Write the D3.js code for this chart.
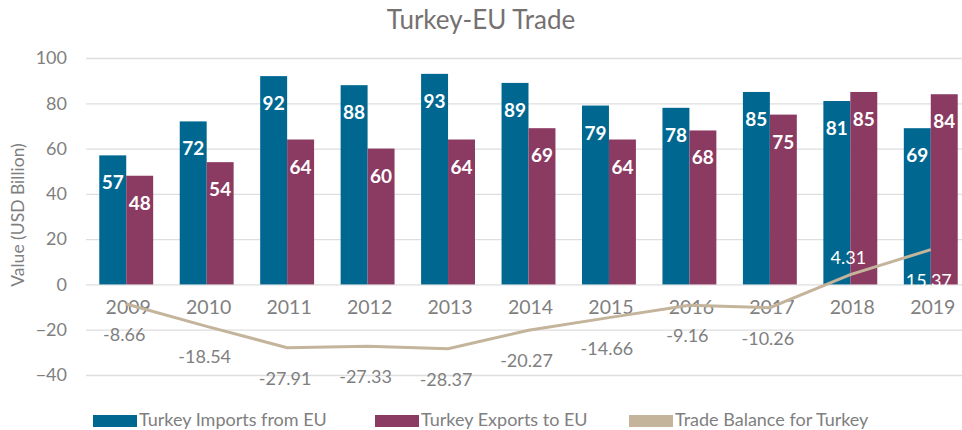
<!DOCTYPE html>
<html>
<head>
<meta charset="utf-8">
<script src="https://cdn.jsdelivr.net/npm/d3@7"></script>
<style>
  body { margin: 0; background: #fff; }
  svg text { font-family: Lato, "DejaVu Sans", sans-serif; }
</style>
</head>
<body>
<div id="chart"></div>
<script>
// chart values
const years = ["2009", "2010", "2011", "2012", "2013", "2014", "2015", "2016", "2017", "2018", "2019"];
const imports = [57, 72, 92, 88, 93, 89, 79, 78, 85, 81, 69];
const exports = [48, 54, 64, 60, 64, 69, 64, 68, 75, 85, 84];
const balance = [-8.66, -18.54, -27.91, -27.33, -28.37, -20.27, -14.66, -9.16, -10.26, 4.31, 15.37];
const balanceLabelPos = ["below", "below", "below", "below", "below", "below", "below", "below", "below", "above", "below"];
const yTicks = [-40, -20, 0, 20, 40, 60, 80, 100];
const seriesNames = ["Turkey Imports from EU", "Turkey Exports to EU", "Trade Balance for Turkey"];

const width = 962;
const height = 430;
const marginTop = 58;
const marginLeft = 86;
const colors = ["#006890", "#8b3a62", "#c4b49b"];

const svg = d3.select("#chart").append("svg")
  .attr("width", width)
  .attr("height", height);

const x = d3.scaleBand()
  .domain(years)
  .range([marginLeft, 971])
  .paddingInner(0.33)
  .paddingOuter(0.165);

const x1 = d3.scaleBand()
  .domain([0, 1])
  .range([0, x.bandwidth()]);

const y = d3.scaleLinear()
  .domain([-40, 100])
  .range([375, marginTop]);

// title
svg.append("text")
  .attr("x", 481)
  .attr("y", 29)
  .attr("text-anchor", "middle")
  .attr("fill", "#767171")
  .style("font-size", "26px")
  .text("Turkey-EU Trade");

// gridlines + y labels
const yAxis = d3.axisLeft(y).tickValues(yTicks).tickSize(-(width - marginLeft)).tickPadding(19);
svg.append("g")
  .attr("transform", `translate(${marginLeft},0)`)
  .call(yAxis)
  .call(g => g.select(".domain").remove())
  .call(g => g.selectAll(".tick line").attr("stroke", "#dedede").attr("stroke-width", 1.3))
  .call(g => g.selectAll(".tick text")
    .attr("fill", "#7f7f7f")
    .style("font-size", "18px")
    .style("font-family", "Lato, sans-serif"));

// y axis title
svg.append("text")
  .attr("transform", `translate(24,215) rotate(-90)`)
  .attr("text-anchor", "middle")
  .attr("fill", "#7f7f7f")
  .style("font-size", "17.5px")
  .text("Value (USD Billion)");

// bars
const groups = svg.append("g").selectAll("g")
  .data(years)
  .join("g")
  .attr("transform", d => `translate(${x(d)},0)`);

[imports, exports].forEach((series, s) => {
  groups.append("rect")
    .attr("x", x1(s))
    .attr("width", x1.bandwidth())
    .attr("y", (d, i) => y(series[i]))
    .attr("height", (d, i) => y(0) - y(series[i]))
    .attr("fill", colors[s]);

  groups.append("text")
    .attr("x", x1(s) + x1.bandwidth() / 2)
    .attr("y", (d, i) => y(series[i]) + 34)
    .attr("text-anchor", "middle")
    .attr("fill", "#fff")
    .style("font-size", "19px")
    .style("font-weight", "bold")
    .text((d, i) => series[i]);
});

// year labels
svg.append("g").selectAll("text")
  .data(years)
  .join("text")
  .attr("x", d => x(d) + x.bandwidth() / 2 + 2)
  .attr("y", 314)
  .attr("text-anchor", "middle")
  .attr("fill", "#7f7f7f")
  .style("font-size", "19.5px")
  .text(d => d);

// trade balance line
const line = d3.line()
  .x((d, i) => x(years[i]) + x.bandwidth() / 2)
  .y(d => y(d));

svg.append("path")
  .datum(balance)
  .attr("fill", "none")
  .attr("stroke", colors[2])
  .attr("stroke-width", 3)
  .attr("d", line);

svg.append("g").selectAll("text")
  .data(balance)
  .join("text")
  .attr("x", (d, i) => x(years[i]) + x.bandwidth() / 2 - 2)
  .attr("y", (d, i) => y(d) + (balanceLabelPos[i] === "above" ? -11 : 37))
  .attr("text-anchor", "middle")
  .attr("fill", d => d > 0 ? "#fff" : "#7f7f7f")
  .style("font-size", "18px")
  .text(d => d.toFixed(2));

// legend
const legendX = [93, 375, 629];
const legend = svg.append("g").selectAll("g")
  .data(seriesNames)
  .join("g")
  .attr("transform", (d, i) => `translate(${legendX[i]},415)`);

legend.append("rect")
  .attr("width", 44)
  .attr("height", 12)
  .attr("fill", (d, i) => colors[i]);

legend.append("text")
  .attr("x", 46)
  .attr("y", 11)
  .attr("fill", "#7f7f7f")
  .style("font-size", "18px")
  .text(d => d);
</script>
</body>
</html>
